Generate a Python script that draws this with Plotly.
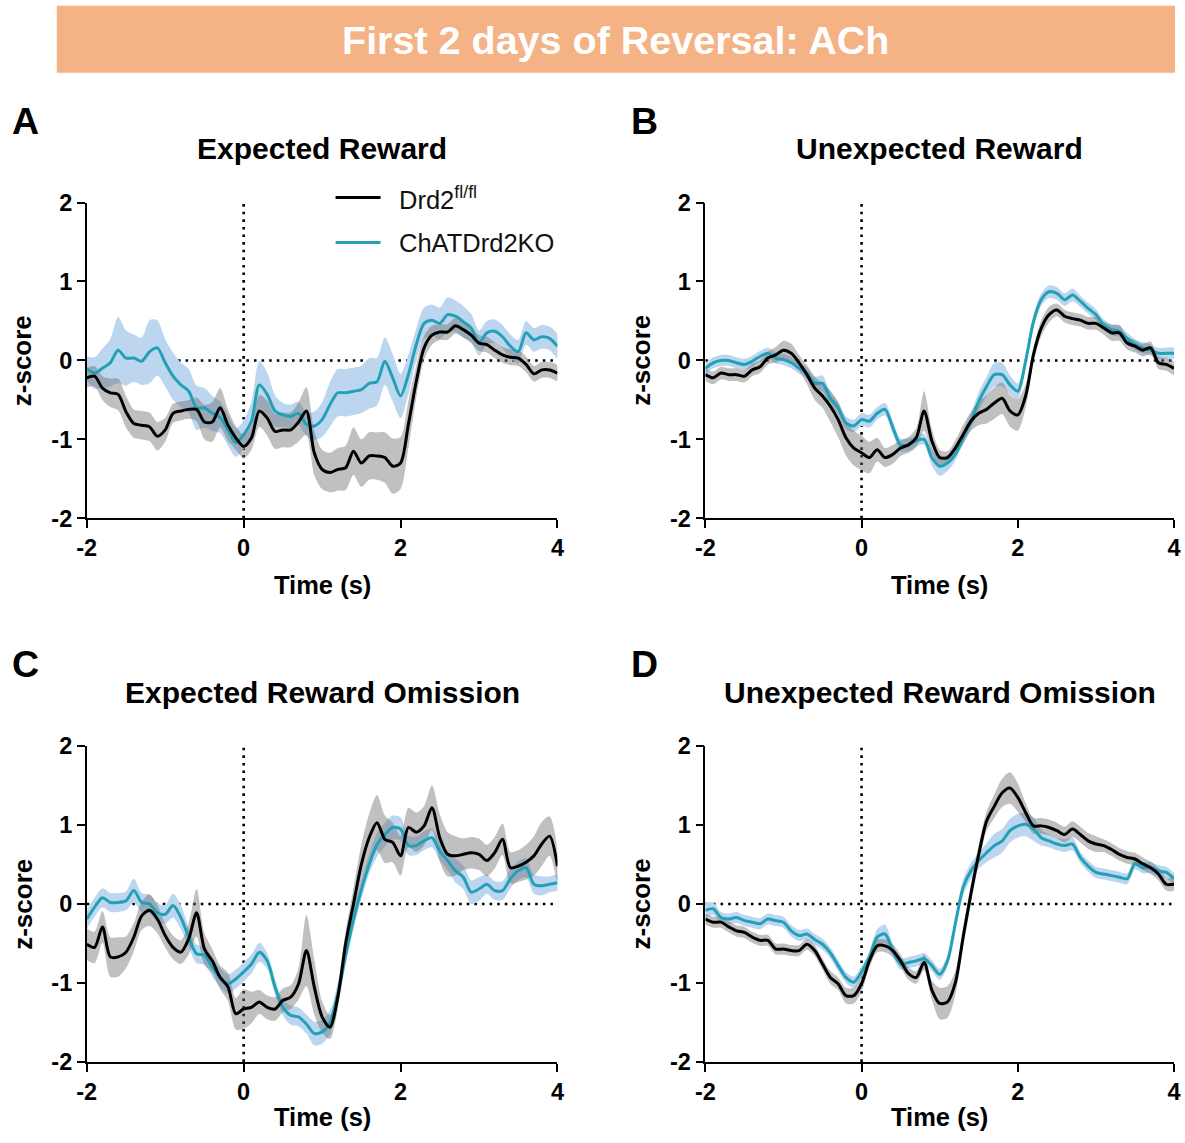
import plotly.graph_objects as go

# ---------------- data ----------------
time_s = [round(-2 + 0.1 * i, 1) for i in range(61)]
x_ticks = [-2, 0, 2, 4]
x_tick_labels = ["-2", "0", "2", "4"]
y_ticks = [-2, -1, 0, 1, 2]
y_tick_labels = ["-2", "-1", "0", "1", "2"]
group_names = ["Drd2<sup>fl/fl</sup>", "ChATDrd2KO"]
panel_titles = ["Expected Reward", "Unexpected Reward",
                "Expected Reward Omission", "Unexpected Reward Omission"]
panel_letters = ["A", "B", "C", "D"]

# Panel A: Expected Reward
A_ctl = [-0.22, -0.2, -0.35, -0.41, -0.43, -0.65, -0.8, -0.82, -0.84, -0.96, -0.88, -0.67, -0.64, -0.62, -0.62, -0.78, -0.78, -0.6, -0.82, -0.98, -1.09,
         -0.98, -0.64, -0.73, -0.9, -0.88, -0.88, -0.78, -0.64, -1.17, -1.38,
         -1.42, -1.38, -1.36, -1.15, -1.3, -1.21, -1.21, -1.23, -1.34, -1.3,
         -0.81, -0.27, 0.16, 0.32, 0.36, 0.36, 0.44, 0.39, 0.32, 0.22,
         0.2, 0.13, 0.07, 0.04, 0.03, -0.05, -0.17, -0.12, -0.12, -0.16]
A_ko = [-0.1, -0.16, -0.1, -0.03, 0.13, 0.03, 0.03, -0.01, 0.11, 0.16, -0.03, -0.2, -0.31, -0.39, -0.6, -0.6, -0.67, -0.72, -0.88, -1.04, -0.94,
        -0.77, -0.31, -0.43, -0.64, -0.69, -0.71, -0.67, -0.81, -0.83, -0.75,
        -0.56, -0.41, -0.41, -0.39, -0.37, -0.29, -0.27, -0.01, -0.22, -0.45,
        -0.18, 0.2, 0.47, 0.51, 0.47, 0.58, 0.56, 0.49, 0.41, 0.22,
        0.35, 0.37, 0.3, 0.18, 0.11, 0.35, 0.26, 0.3, 0.28, 0.18]
A_ctl_sem = [0.12, 0.13, 0.15, 0.18, 0.2, 0.2, 0.18, 0.18, 0.18, 0.18, 0.15, 0.12, 0.12, 0.12, 0.15, 0.22, 0.25, 0.25, 0.2, 0.15, 0.15,
             0.15, 0.2, 0.22, 0.22, 0.22, 0.22, 0.25, 0.3, 0.28, 0.25,
             0.25, 0.27, 0.28, 0.3, 0.3, 0.3, 0.3, 0.32, 0.35, 0.33,
             0.3, 0.2, 0.15, 0.12, 0.1, 0.1, 0.1, 0.1, 0.1, 0.1,
             0.1, 0.1, 0.1, 0.1, 0.1, 0.1, 0.1, 0.1, 0.1, 0.1]
A_ko_sem = [0.15, 0.2, 0.25, 0.3, 0.42, 0.35, 0.3, 0.3, 0.4, 0.35, 0.3, 0.3, 0.28, 0.28, 0.28, 0.25, 0.22, 0.2, 0.2, 0.18, 0.18,
            0.25, 0.3, 0.28, 0.2, 0.15, 0.15, 0.15, 0.15, 0.18, 0.22,
            0.28, 0.3, 0.3, 0.3, 0.3, 0.32, 0.3, 0.3, 0.3, 0.28,
            0.25, 0.2, 0.2, 0.2, 0.2, 0.22, 0.2, 0.2, 0.18, 0.16,
            0.15, 0.15, 0.15, 0.15, 0.15, 0.15, 0.15, 0.15, 0.15, 0.15]

# Panel B: Unexpected Reward
B_ctl = [-0.18, -0.22, -0.16, -0.18, -0.18, -0.2, -0.12, -0.08, 0.03, 0.07, 0.13, 0.09, -0.03, -0.18, -0.35, -0.45, -0.58, -0.75, -0.98, -1.11, -1.17,
         -1.23, -1.13, -1.23, -1.19, -1.11, -1.07, -0.98, -0.64, -1.02, -1.23,
         -1.23, -1.11, -0.94, -0.77, -0.67, -0.62, -0.54, -0.48, -0.64, -0.69,
         -0.45, 0.07, 0.41, 0.58, 0.64, 0.56, 0.53, 0.51, 0.47, 0.47,
         0.41, 0.35, 0.35, 0.22, 0.18, 0.13, 0.16, -0.03, -0.05, -0.1]
B_ko = [-0.1, -0.03, 0.0, 0.0, -0.03, -0.05, -0.01, 0.05, 0.09, 0.03, 0.01, -0.03, -0.1, -0.16, -0.29, -0.29, -0.48, -0.6, -0.79, -0.83, -0.75,
        -0.77, -0.67, -0.62, -0.85, -1.07, -1.07, -1.02, -1.0, -1.23, -1.34,
        -1.3, -1.19, -0.98, -0.77, -0.52, -0.33, -0.18, -0.18, -0.31, -0.39,
        -0.01, 0.49, 0.77, 0.87, 0.85, 0.77, 0.83, 0.75, 0.66, 0.58,
        0.45, 0.39, 0.37, 0.28, 0.2, 0.16, 0.13, 0.09, 0.09, 0.09]
B_ctl_sem = [0.08, 0.08, 0.08, 0.08, 0.08, 0.08, 0.08, 0.08, 0.08, 0.1, 0.12, 0.12, 0.1, 0.12, 0.15, 0.15, 0.2, 0.22, 0.22, 0.22, 0.22,
             0.2, 0.15, 0.12, 0.12, 0.1, 0.1, 0.12, 0.25, 0.15, 0.1,
             0.08, 0.1, 0.12, 0.12, 0.15, 0.18, 0.2, 0.2, 0.2, 0.2,
             0.15, 0.1, 0.1, 0.1, 0.08, 0.08, 0.08, 0.08, 0.08, 0.08,
             0.08, 0.1, 0.1, 0.08, 0.08, 0.08, 0.08, 0.08, 0.08, 0.08]
B_ko_sem = [0.07, 0.07, 0.07, 0.07, 0.07, 0.07, 0.07, 0.07, 0.07, 0.07, 0.07, 0.07, 0.07, 0.07, 0.08, 0.1, 0.08, 0.08, 0.08, 0.08, 0.08,
            0.08, 0.08, 0.08, 0.08, 0.08, 0.08, 0.07, 0.07, 0.1, 0.12,
            0.1, 0.08, 0.08, 0.1, 0.12, 0.12, 0.15, 0.15, 0.12, 0.1,
            0.08, 0.08, 0.08, 0.08, 0.08, 0.08, 0.08, 0.07, 0.07, 0.07,
            0.07, 0.07, 0.07, 0.07, 0.07, 0.07, 0.07, 0.07, 0.07, 0.07]

# Panel C: Expected Reward Omission
C_ctl = [-0.51, -0.55, -0.29, -0.67, -0.67, -0.61, -0.42, -0.15, -0.08, -0.19, -0.4, -0.55, -0.61, -0.44, -0.11, -0.57, -0.72, -0.93, -1.05, -1.39, -1.33,
         -1.31, -1.24, -1.31, -1.33, -1.22, -1.18, -1.01, -0.59, -1.05, -1.43,
         -1.56, -1.18, -0.5, 0.0, 0.5, 0.84, 1.03, 0.82, 0.78, 0.61,
         0.97, 0.91, 0.99, 1.22, 0.84, 0.63, 0.61, 0.63, 0.65, 0.63,
         0.55, 0.65, 0.82, 0.46, 0.48, 0.53, 0.61, 0.76, 0.86, 0.48]
C_ko = [-0.19, -0.04, 0.08, 0.02, 0.02, 0.04, 0.17, 0.02, 0.0, -0.11, -0.13, -0.02, -0.17, -0.42, -0.63, -0.65, -0.8, -0.93, -1.01, -0.95, -0.86,
        -0.76, -0.61, -0.72, -1.05, -1.31, -1.41, -1.43, -1.52, -1.64, -1.62,
        -1.5, -1.15, -0.65, -0.2, 0.18, 0.5, 0.75, 0.88, 0.97, 0.95,
        0.74, 0.74, 0.8, 0.84, 0.67, 0.55, 0.42, 0.34, 0.15, 0.19,
        0.25, 0.17, 0.17, 0.32, 0.42, 0.46, 0.25, 0.23, 0.25, 0.27]
C_ctl_sem = [0.2, 0.2, 0.2, 0.25, 0.25, 0.2, 0.18, 0.18, 0.2, 0.18, 0.15, 0.15, 0.15, 0.2, 0.3, 0.2, 0.15, 0.15, 0.18, 0.2, 0.25,
             0.2, 0.15, 0.15, 0.15, 0.15, 0.15, 0.2, 0.45, 0.35, 0.2,
             0.15, 0.15, 0.15, 0.2, 0.25, 0.3, 0.35, 0.3, 0.25, 0.25,
             0.25, 0.25, 0.25, 0.28, 0.3, 0.28, 0.25, 0.2, 0.2, 0.2,
             0.2, 0.2, 0.2, 0.2, 0.2, 0.22, 0.25, 0.28, 0.25, 0.2]
C_ko_sem = [0.12, 0.12, 0.12, 0.12, 0.12, 0.12, 0.15, 0.12, 0.12, 0.12, 0.12, 0.15, 0.15, 0.12, 0.12, 0.12, 0.12, 0.12, 0.12, 0.12, 0.12,
            0.12, 0.12, 0.1, 0.1, 0.1, 0.12, 0.12, 0.12, 0.15, 0.15,
            0.15, 0.15, 0.12, 0.12, 0.12, 0.12, 0.15, 0.15, 0.15, 0.15,
            0.12, 0.12, 0.12, 0.12, 0.12, 0.12, 0.15, 0.15, 0.15, 0.15,
            0.12, 0.12, 0.12, 0.12, 0.12, 0.12, 0.12, 0.12, 0.1, 0.1]

# Panel D: Unexpected Reward Omission
D_ctl = [-0.19, -0.23, -0.23, -0.29, -0.34, -0.36, -0.42, -0.46, -0.46, -0.57, -0.57, -0.59, -0.59, -0.51, -0.59, -0.76, -0.93, -1.01, -1.16, -1.16, -1.01,
         -0.72, -0.53, -0.53, -0.59, -0.72, -0.88, -0.93, -0.74, -1.09, -1.26,
         -1.24, -1.0, -0.42, 0.13, 0.63, 1.05, 1.24, 1.41, 1.47, 1.35,
         1.16, 0.99, 0.99, 0.97, 0.93, 0.88, 0.95, 0.88, 0.8, 0.76,
         0.74, 0.69, 0.63, 0.59, 0.57, 0.51, 0.46, 0.38, 0.25, 0.25]
D_ko = [-0.08, -0.06, -0.17, -0.19, -0.17, -0.21, -0.23, -0.25, -0.19, -0.21, -0.23, -0.34, -0.4, -0.38, -0.45, -0.51, -0.62, -0.78, -0.93, -0.99, -0.86,
        -0.67, -0.42, -0.38, -0.59, -0.76, -0.74, -0.72, -0.69, -0.78, -0.89,
        -0.72, -0.25, 0.21, 0.42, 0.55, 0.65, 0.74, 0.8, 0.93, 0.99,
        1.01, 0.95, 0.84, 0.8, 0.76, 0.74, 0.76, 0.59, 0.48, 0.4,
        0.38, 0.36, 0.34, 0.32, 0.51, 0.46, 0.46, 0.42, 0.4, 0.32]
D_ctl_sem = [0.07, 0.07, 0.07, 0.07, 0.07, 0.07, 0.07, 0.07, 0.07, 0.07, 0.07, 0.07, 0.07, 0.07, 0.07, 0.07, 0.08, 0.08, 0.1, 0.1, 0.1,
             0.08, 0.08, 0.08, 0.08, 0.08, 0.08, 0.08, 0.1, 0.12, 0.2,
             0.2, 0.15, 0.12, 0.12, 0.12, 0.12, 0.15, 0.18, 0.2, 0.18,
             0.12, 0.1, 0.1, 0.1, 0.1, 0.1, 0.1, 0.1, 0.1, 0.1,
             0.08, 0.08, 0.08, 0.08, 0.08, 0.08, 0.08, 0.08, 0.08, 0.08]
D_ko_sem = [0.1, 0.08, 0.07, 0.07, 0.07, 0.07, 0.07, 0.07, 0.07, 0.07, 0.07, 0.07, 0.07, 0.07, 0.07, 0.07, 0.07, 0.07, 0.07, 0.07, 0.07,
            0.07, 0.1, 0.12, 0.08, 0.07, 0.07, 0.07, 0.07, 0.07, 0.07,
            0.07, 0.07, 0.1, 0.1, 0.1, 0.12, 0.15, 0.15, 0.15, 0.15,
            0.15, 0.15, 0.1, 0.08, 0.08, 0.08, 0.08, 0.07, 0.07, 0.07,
            0.07, 0.07, 0.07, 0.07, 0.07, 0.07, 0.07, 0.07, 0.07, 0.07]

panels = [
    (A_ctl, A_ctl_sem, A_ko, A_ko_sem),
    (B_ctl, B_ctl_sem, B_ko, B_ko_sem),
    (C_ctl, C_ctl_sem, C_ko, C_ko_sem),
    (D_ctl, D_ctl_sem, D_ko, D_ko_sem),
]

# ---------------- style / layout ----------------
W, H = 1185, 1143
FONT = "Liberation Sans, Arial, Helvetica, sans-serif"
CTL_LINE = "#000000"
KO_LINE = "#22A1B6"
CTL_FILL = "rgba(105,105,105,0.42)"
KO_FILL = "rgb(188,214,240)"

# the captured picture is slightly inset/scaled relative to the figure;
# convert target picture pixels to figure pixels
SX, BX = 0.9863, 9.2
SY, BY = 0.978, 12.3


def fx(p):
    return (p - BX) / SX


def fy(p):
    return (p - BY) / SY


def px_x(p):
    return fx(p) / W


def px_y(p):
    return 1 - fy(p) / H


# axis boxes in target picture pixels: (left, right, top, bottom)
boxes = [(86, 557, 202, 518), (705, 1174, 202, 518),
         (86, 557, 746, 1062), (705, 1174, 746, 1062)]

fig = go.Figure()
layout_axes = {}
shapes = []
annotations = []

for k, (box, data) in enumerate(zip(boxes, panels)):
    l, r, t, b = box
    n = k + 1
    xa = "x" if n == 1 else f"x{n}"
    ya = "y" if n == 1 else f"y{n}"
    ctl, ctl_sem, ko, ko_sem = data

    def band(mean, sem, color):
        upper = [m + s for m, s in zip(mean, sem)]
        lower = [m - s for m, s in zip(mean, sem)]
        return go.Scatter(x=time_s + time_s[::-1], y=upper + lower[::-1],
                          fill="toself", fillcolor=color, mode="lines",
                          line=dict(width=0, shape="spline", smoothing=0.8),
                          hoverinfo="skip", showlegend=False, xaxis=xa, yaxis=ya)

    fig.add_trace(band(ko, ko_sem, KO_FILL))
    fig.add_trace(band(ctl, ctl_sem, CTL_FILL))
    fig.add_trace(go.Scatter(x=time_s, y=ko, mode="lines", name=group_names[1],
                             line=dict(color=KO_LINE, width=3, shape="spline", smoothing=0.8),
                             showlegend=False, xaxis=xa, yaxis=ya))
    fig.add_trace(go.Scatter(x=time_s, y=ctl, mode="lines", name=group_names[0],
                             line=dict(color=CTL_LINE, width=3, shape="spline", smoothing=0.8),
                             showlegend=False, xaxis=xa, yaxis=ya))

    axis_common = dict(showgrid=False, zeroline=False, showline=True, linecolor="black",
                       linewidth=1.6, ticks="outside", ticklen=8, tickwidth=1.6,
                       tickcolor="black",
                       tickfont=dict(family=FONT, size=23.5, color="black", weight="bold"))
    layout_axes["xaxis" if n == 1 else f"xaxis{n}"] = dict(
        axis_common, domain=[px_x(l), min(px_x(r), 1.0)], range=[-2, 4], tickvals=x_ticks,
        ticktext=x_tick_labels, anchor=ya, fixedrange=True)
    layout_axes["yaxis" if n == 1 else f"yaxis{n}"] = dict(
        axis_common, domain=[px_y(b), px_y(t)], range=[-2, 2], tickvals=y_ticks,
        ticktext=y_tick_labels, anchor=xa, fixedrange=True)

    ref = dict(xref=xa, yref=ya, layer="below",
               line=dict(color="black", width=2.6, dash="2.6px,5px"))
    shapes.append(dict(ref, type="line", x0=0, x1=0, y0=-2, y1=2))
    shapes.append(dict(ref, type="line", x0=-2, x1=4, y0=0, y1=0))

    cx = (l + r) / 2
    annotations.append(dict(text=f"<b>{panel_titles[k]}</b>", x=px_x(cx), y=px_y(t - 54),
                            xref="paper", yref="paper", showarrow=False,
                            xanchor="center", yanchor="middle",
                            font=dict(family=FONT, size=30, color="black")))
    annotations.append(dict(text=f"<b>{panel_letters[k]}</b>", x=px_x(l - 61), y=px_y(t - 82),
                            xref="paper", yref="paper", showarrow=False,
                            xanchor="center", yanchor="middle",
                            font=dict(family=FONT, size=37.5, color="black")))
    if n <= 2:
        annotations.append(dict(text="<b>Time (s)</b>", x=px_x(cx), y=px_y(b + 67),
                                xref="paper", yref="paper", showarrow=False,
                                xanchor="center", yanchor="middle",
                                font=dict(family=FONT, size=25.5, color="black")))
    else:
        annotations.append(dict(text="<b>Time (s)</b>", x=px_x(cx), y=0, yshift=-3,
                                xref="paper", yref="paper", showarrow=False,
                                xanchor="center", yanchor="bottom",
                                font=dict(family=FONT, size=25.5, color="black")))
    annotations.append(dict(text="<b>z-score</b>", x=px_x(l - 64), y=px_y((t + b) / 2),
                            xref="paper", yref="paper", showarrow=False, textangle=-90,
                            xanchor="center", yanchor="middle",
                            font=dict(family=FONT, size=26, color="black")))

# legend (drawn inside panel A)
leg_rows = [(197, CTL_LINE, group_names[0]), (242, KO_LINE, group_names[1])]
for yy, col, name in leg_rows:
    shapes.append(dict(type="line", xref="paper", yref="paper",
                       x0=px_x(335), x1=px_x(380), y0=px_y(yy), y1=px_y(yy),
                       line=dict(color=col, width=3)))
    annotations.append(dict(text=name, x=px_x(396), y=px_y(yy), xref="paper", yref="paper",
                            showarrow=False, xanchor="left", yanchor="middle",
                            font=dict(family=FONT, size=25.5, color="#111111")))

# header banner
shapes.append(dict(type="rect", xref="paper", yref="paper", layer="below",
                   x0=px_x(56), x1=min(px_x(1175), 1.0), y0=px_y(72), y1=px_y(5),
                   fillcolor="#F4B285", line=dict(width=0)))
annotations.append(dict(text="<b>First 2 days of Reversal: ACh</b>", x=px_x(615), y=px_y(39),
                        xref="paper", yref="paper", showarrow=False,
                        xanchor="center", yanchor="middle",
                        font=dict(family=FONT, size=39.5, color="white")))

fig.update_layout(width=W, height=H, margin=dict(l=0, r=0, t=0, b=0),
                  paper_bgcolor="white", plot_bgcolor="rgba(0,0,0,0)",
                  showlegend=False, shapes=shapes, annotations=annotations,
                  **layout_axes)

fig.write_html("out.html")
